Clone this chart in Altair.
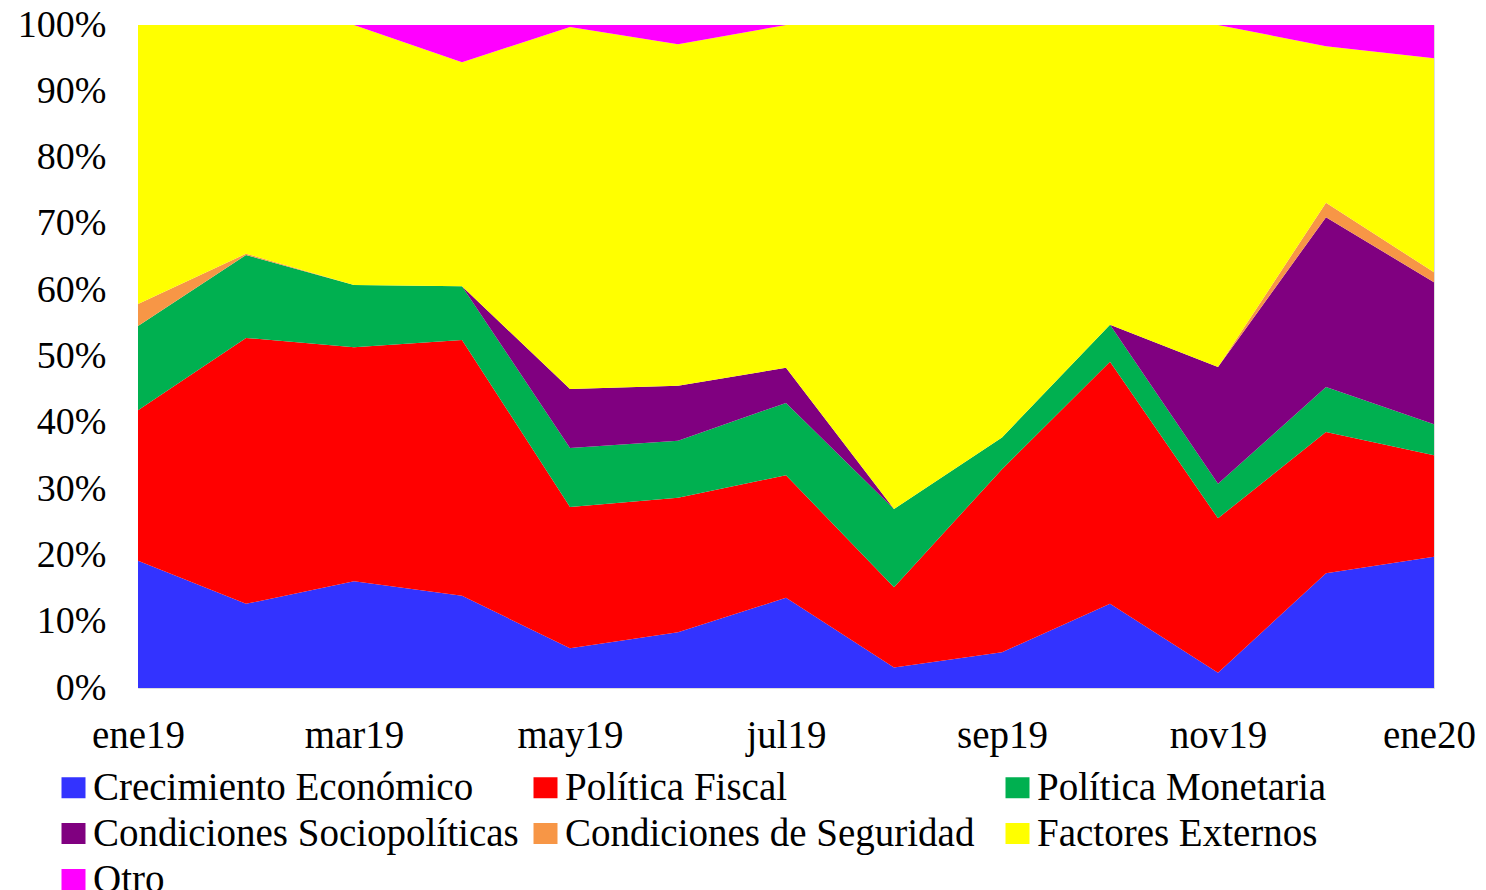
import altair as alt
import pandas as pd

months = ["ene19", "feb19", "mar19", "abr19", "may19", "jun19", "jul19",
          "ago19", "sep19", "oct19", "nov19", "dic19", "ene20"]
tick_months = [0, 2, 4, 6, 8, 10, 12]

series = ["Crecimiento Económico", "Política Fiscal", "Política Monetaria",
          "Condiciones Sociopolíticas", "Condiciones de Seguridad",
          "Factores Externos", "Otro"]
colors = ["#3333ff", "#ff0000", "#00b050", "#800080", "#f79646", "#ffff00", "#ff00ff"]

crecimiento = [19.2, 12.7, 16.1, 13.9, 6.0, 8.4, 13.6, 3.1, 5.4, 12.7, 2.3, 17.3, 19.8]
fiscal = [22.7, 40.1, 35.3, 38.6, 21.3, 20.3, 18.5, 12.1, 27.6, 36.5, 23.3, 21.3, 15.3]
monetaria = [12.7, 12.5, 9.4, 8.1, 8.9, 8.6, 10.9, 11.8, 4.8, 5.6, 5.2, 6.8, 4.7]
sociopoliticas = [0.0, 0.0, 0.0, 0.0, 8.9, 8.3, 5.3, 0.0, 0.0, 0.0, 17.6, 25.6, 21.4]
seguridad = [3.3, 0.2, 0.0, 0.0, 0.0, 0.0, 0.0, 0.0, 0.0, 0.0, 0.0, 2.2, 1.5]
externos = [42.1, 34.5, 39.2, 33.8, 54.6, 51.5, 51.7, 73.0, 62.2, 45.2, 51.6, 23.6, 32.3]
otro = [0.0, 0.0, 0.0, 5.6, 0.3, 2.9, 0.0, 0.0, 0.0, 0.0, 0.0, 3.2, 5.0]

values = [crecimiento, fiscal, monetaria, sociopoliticas, seguridad, externos, otro]

rows = []
for k, (name, vals) in enumerate(zip(series, values)):
    for i, v in enumerate(vals):
        rows.append({"idx": i, "mes": months[i], "serie": name, "orden": k, "valor": v})
df = pd.DataFrame(rows)

label_expr = "[" + ",".join("'" + m + "'" for m in months) + "][datum.value]"
FONT = "Liberation Serif"

chart = alt.Chart(df).mark_area(interpolate="linear").encode(
    x=alt.X("idx:Q",
            scale=alt.Scale(domain=[0, 12], nice=False),
            axis=alt.Axis(values=tick_months, labelExpr=label_expr, title=None,
                          grid=False, ticks=False, domain=False, tickSize=0,
                          labelFont=FONT, labelFontSize=39, labelColor="black",
                          labelFlush=False, labelOverlap=False, labelBound=False,
                          labelOffset={"condition": {"test": "datum.value == 12", "value": -5},
                                       "value": 0},
                          labelBaseline="alphabetic", labelPadding=59)),
    y=alt.Y("valor:Q", stack="normalize",
            scale=alt.Scale(domain=[0, 1], nice=False),
            axis=alt.Axis(values=[i / 10 for i in range(11)], format=".0%", title=None,
                          grid=False, ticks=False, domain=False, tickSize=0,
                          labelFont=FONT, labelFontSize=38, labelColor="black",
                          labelPadding=32, labelFlush=False, labelOverlap=False)),
    color=alt.Color("serie:N",
                    scale=alt.Scale(domain=series, range=colors),
                    legend=alt.Legend(title=None, orient="none", legendX=-84, legendY=743,
                                      direction="horizontal",
                                      columns=3, gridAlign="all", columnPadding=7,
                                      rowPadding=6, padding=0,
                                      symbolType="M-1,-0.875H1V0.875H-1Z",
                                      symbolSize=576, symbolStrokeWidth=0,
                                      symbolOpacity=1, labelOffset=0,
                                      labelFont=FONT, labelFontSize=39,
                                      labelColor="black", labelLimit=0)),
    order=alt.Order("orden:Q", sort="ascending"),
).properties(
    width=1296, height=663,
    autosize=alt.AutoSizeParams(type="none"),
    padding={"left": 130, "top": 17, "right": 44, "bottom": 202},
).configure_view(stroke="#d9d9d9", strokeWidth=2).configure(background="white")

chart.save("out.html", embed_options={"renderer": "svg", "actions": False})
